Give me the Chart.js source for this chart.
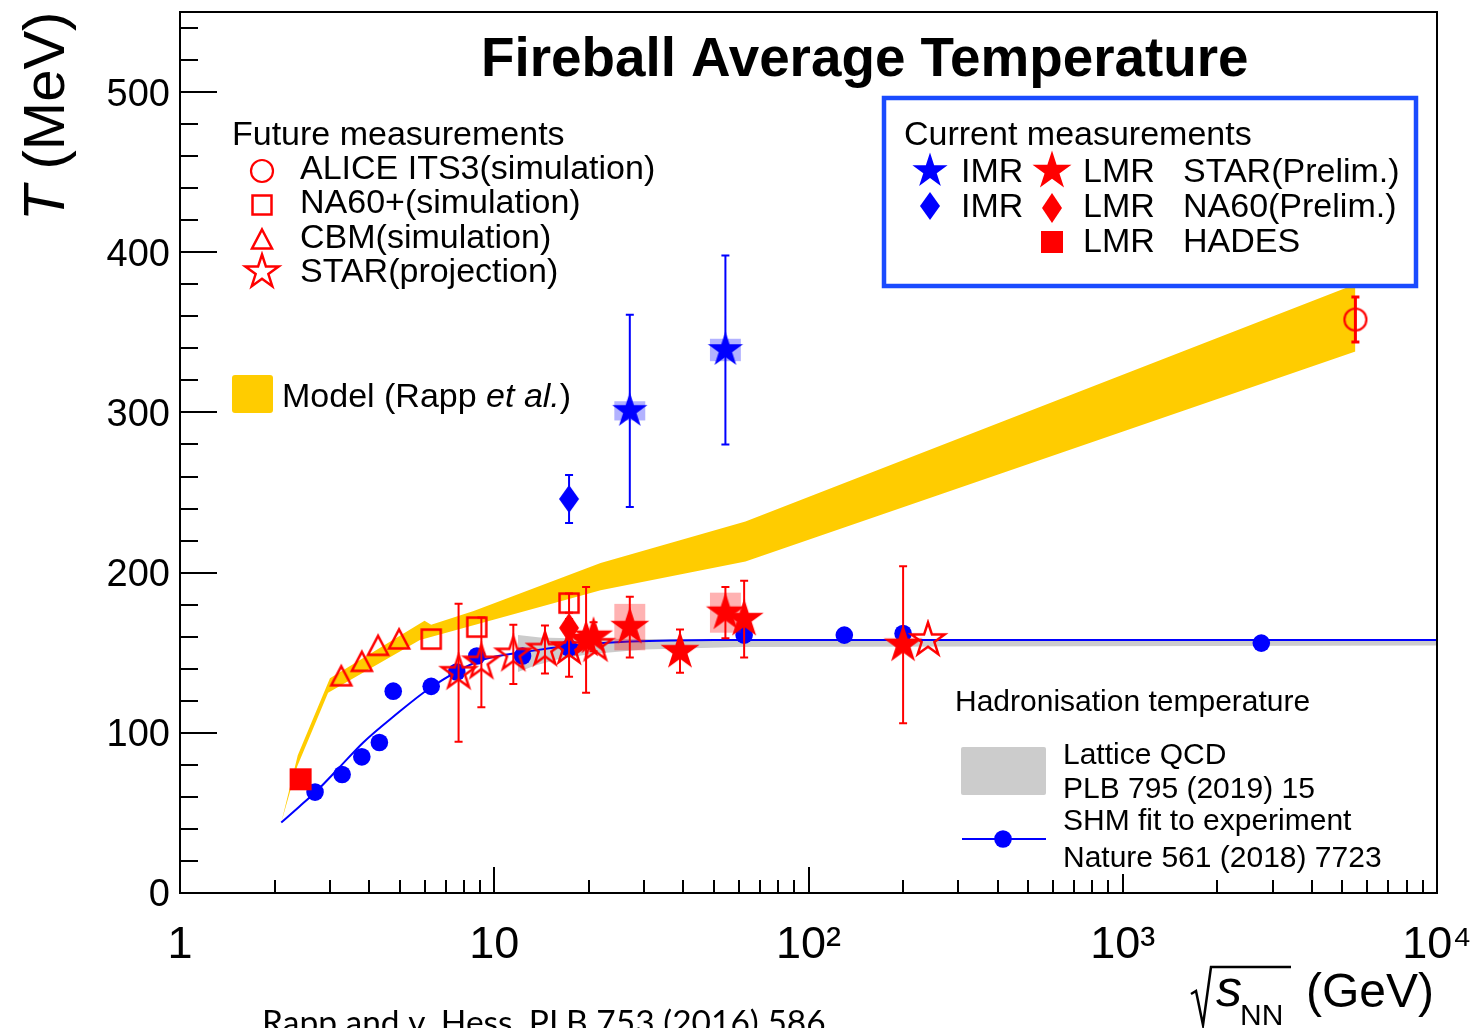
<!DOCTYPE html>
<html>
<head>
<meta charset="utf-8">
<title>Fireball Average Temperature</title>
<script src="https://cdn.jsdelivr.net/npm/chart.js@4.4.1/dist/chart.umd.min.js"></script>
<style>
  html, body { margin: 0; padding: 0; background: #fff; }
  #wrap { width: 1477px; height: 1028px; }
</style>
</head>
<body>
<div id="wrap"><canvas id="fireball" width="1477" height="1028"></canvas></div>
<script>
// sqrt(s_NN) in GeV on x, temperature in MeV on y

// Rapp et al. model band (upper / lower edge)
const modelUpperE = [2.1, 2.37, 3.0, 6.0, 6.3, 8.6, 21.8, 63, 5500];
const modelUpperT = [44, 86, 134, 170, 167.5, 176, 206, 232, 380];
const modelLowerE = [2.1, 2.36, 2.96, 5.8, 21.8, 63, 5500];
const modelLowerT = [44, 79, 125, 158, 189, 207, 338];

// lattice QCD pseudo-critical band
const latticeUpperE = [11.9, 14, 20, 60, 10000];
const latticeUpperT = [161, 159.5, 158.8, 158.3, 158];
const latticeLowerE = [11.9, 13.5, 16, 20, 30, 60, 10000];
const latticeLowerT = [138, 142, 146, 149, 152, 153.5, 154.5];

// SHM chemical freeze-out: curve and fitted points
const shmCurveE = [2.1, 2.4, 2.73, 3.2, 3.83, 4.77, 6.25, 9.0, 13, 18.8, 27, 50, 200, 10000];
const shmCurveT = [44, 54, 64, 78, 94, 110, 128, 145, 151, 155, 157, 158, 158, 158];
const shmPointE = [2.69, 3.28, 3.79, 4.31, 4.77, 6.3, 7.6, 8.8, 12.3, 17.3, 62.4, 130, 200, 2760];
const shmPointT = [63, 74, 85, 94, 126, 129, 138, 148, 148, 153, 161, 161, 162, 156];

// current measurements
const starLmrE = [19.6, 20.7, 27, 39, 54.4, 62.4, 200];
const starLmrT = [158, 160, 166, 151, 175, 171, 155];
const starLmrStat = [33, 9, 19, 13.5, 16, 24, 49];
const starLmrSys = [0, 0, 14.5, 0, 12.5, 0, 0];
const starImrE = [27, 54.4];
const starImrT = [301, 339];
const starImrStat = [60, 59];
const starImrSys = [6, 7];
const na60LmrE = [17.3];
const na60LmrT = [165.5];
const na60ImrE = [17.3];
const na60ImrT = [246];
const na60ImrStat = [15];
const hadesE = [2.42];
const hadesT = [71];

// future measurements
const aliceE = [5500];
const aliceT = [358];
const aliceErr = [14];
const na60PlusE = [6.3, 8.8, 17.3];
const na60PlusT = [158.5, 166, 181];
const na60PlusErr = [0, 0, 6];
const cbmE = [3.26, 3.79, 4.27, 4.98];
const cbmT = [135, 144, 154, 158];
const starProjE = [7.7, 9.1, 11.5, 14.5, 17.3, 21, 240];
const starProjT = [137.5, 144, 149, 152, 153, 155, 158];
const starProjErr = [43, 28, 18.5, 15, 18, 0, 0];

// axes
const xDecades = [1, 10, 100, 1000, 10000];
const xTickLabels = ['1', '10', '10²', '10³', '10⁴'];
const yTickLabels = ['0', '100', '200', '300', '400', '500'];

const RED = '#ff0000', BLUE = '#0000ff', GOLD = '#ffcc00', GREY = '#cccccc';
const BOXBLUE = '#1a4bff';
const SANS = '"Liberation Sans", Arial, Helvetica, sans-serif';
const SYS_HALF = 1.12; // half width of systematic boxes, as a factor in sqrt(s)

const pts = (xs, ys) => xs.map((x, i) => ({ x, y: ys[i] }));

// marker images
function marker(w, h, paint) {
  const c = document.createElement('canvas');
  c.width = w; c.height = h;
  const g = c.getContext('2d');
  g.translate(w / 2, h / 2);
  paint(g);
  return c;
}
function starPath(g, R) {
  const r = R * 0.382;
  g.beginPath();
  for (let i = 0; i < 10; i++) {
    const a = -Math.PI / 2 + i * Math.PI / 5;
    const d = i % 2 ? r : R;
    g.lineTo(d * Math.cos(a), d * Math.sin(a));
  }
  g.closePath();
}
function diamondPath(g, w, h) {
  g.beginPath();
  g.moveTo(0, -h / 2); g.lineTo(w / 2, 0); g.lineTo(0, h / 2); g.lineTo(-w / 2, 0);
  g.closePath();
}
const redStar = marker(46, 46, g => { starPath(g, 20.5); g.fillStyle = RED; g.fill(); });
const blueStar = marker(40, 40, g => { starPath(g, 18.5); g.fillStyle = BLUE; g.fill(); });
const openStar = marker(42, 42, g => {
  starPath(g, 17.5); g.strokeStyle = RED; g.lineWidth = 2.5; g.stroke();
});
const openSquare = marker(26, 26, g => {
  g.strokeStyle = RED; g.lineWidth = 2.5; g.strokeRect(-9.5, -9.5, 19, 19);
});
const openTriangle = marker(28, 28, g => {
  g.beginPath(); g.moveTo(0, -10.5); g.lineTo(10, 8.5); g.lineTo(-10, 8.5); g.closePath();
  g.strokeStyle = RED; g.lineWidth = 2.5; g.stroke();
});
const openCircle = marker(28, 28, g => {
  g.beginPath(); g.arc(0, 0, 11, 0, Math.PI * 2);
  g.strokeStyle = RED; g.lineWidth = 2.2; g.stroke();
});
const hadesSquare = marker(24, 24, g => { g.fillStyle = RED; g.fillRect(-11, -11, 22, 22); });
const redDiamond = marker(24, 34, g => { diamondPath(g, 20, 30); g.fillStyle = RED; g.fill(); });
const blueDiamond = marker(24, 32, g => { diamondPath(g, 20, 28); g.fillStyle = BLUE; g.fill(); });

function band(label, E, T, color, fill, order) {
  return {
    label, data: pts(E, T), showLine: true, fill,
    backgroundColor: color, borderColor: 'rgba(0,0,0,0)', borderWidth: 0,
    pointRadius: 0, order
  };
}
function markers(label, E, T, style, order, extra) {
  return Object.assign({
    label, data: pts(E, T), showLine: false, pointStyle: style,
    pointRadius: 10, order
  }, extra || {});
}

const datasets = [
  band('Model upper', modelUpperE, modelUpperT, GOLD, '+1', 20),
  band('Model lower', modelLowerE, modelLowerT, GOLD, false, 21),
  band('Lattice upper', latticeUpperE, latticeUpperT, GREY, '+1', 18),
  band('Lattice lower', latticeLowerE, latticeLowerT, GREY, false, 19),
  {
    label: 'SHM curve', data: pts(shmCurveE, shmCurveT), showLine: true,
    borderColor: BLUE, borderWidth: 2, pointRadius: 0,
    cubicInterpolationMode: 'monotone', fill: false, order: 17
  },
  {
    label: 'SHM fit', data: pts(shmPointE, shmPointT), showLine: false,
    pointStyle: 'circle', pointRadius: 8.8, backgroundColor: BLUE,
    borderWidth: 0, order: 16
  },
  markers('ALICE ITS3', aliceE, aliceT, openCircle, 15,
    { err: aliceErr, errColor: RED, errWidth: 3 }),
  markers('CBM', cbmE, cbmT, openTriangle, 14),
  markers('NA60+', na60PlusE, na60PlusT, openSquare, 13,
    { err: na60PlusErr, errColor: RED, errWidth: 2 }),
  markers('STAR projection', starProjE, starProjT, openStar, 12,
    { err: starProjErr, errColor: RED, errWidth: 2 }),
  markers('HADES LMR', hadesE, hadesT, hadesSquare, 11),
  markers('STAR IMR', starImrE, starImrT, blueStar, 10,
    { err: starImrStat, sys: starImrSys, errColor: BLUE, errWidth: 2, sysColor: 'rgba(0,0,255,0.3)' }),
  markers('NA60 IMR', na60ImrE, na60ImrT, blueDiamond, 9,
    { err: na60ImrStat, errColor: BLUE, errWidth: 2 }),
  markers('NA60 LMR', na60LmrE, na60LmrT, redDiamond, 8),
  markers('STAR LMR', starLmrE, starLmrT, redStar, 7,
    { err: starLmrStat, sys: starLmrSys, errColor: RED, errWidth: 2, sysColor: 'rgba(255,0,0,0.3)' })
];

// stat error bars and systematic boxes, drawn just below their own markers
const errorBars = {
  id: 'errorBars',
  beforeDatasetDraw(chart, args) {
    const ds = chart.data.datasets[args.index];
    if (!ds.err && !ds.sys) return;
    const { ctx, scales: { x, y } } = chart;
    ctx.save();
    if (ds.sys) {
      ctx.fillStyle = ds.sysColor;
      ds.data.forEach((p, i) => {
        const s = ds.sys[i];
        if (!s) return;
        const x0 = x.getPixelForValue(p.x / SYS_HALF);
        const x1 = x.getPixelForValue(p.x * SYS_HALF);
        const y0 = y.getPixelForValue(p.y + s);
        const y1 = y.getPixelForValue(p.y - s);
        ctx.fillRect(x0, y0, x1 - x0, y1 - y0);
      });
    }
    if (ds.err) {
      ctx.strokeStyle = ds.errColor;
      ctx.lineWidth = ds.errWidth;
      ctx.beginPath();
      ds.data.forEach((p, i) => {
        const e = ds.err[i];
        if (!e) return;
        const px = x.getPixelForValue(p.x);
        const top = y.getPixelForValue(p.y + e);
        const bot = y.getPixelForValue(p.y - e);
        ctx.moveTo(px, top); ctx.lineTo(px, bot);
        ctx.moveTo(px - 4, top); ctx.lineTo(px + 4, top);
        ctx.moveTo(px - 4, bot); ctx.lineTo(px + 4, bot);
      });
      ctx.stroke();
    }
    ctx.restore();
  }
};

// ROOT-like frame with inward ticks
const frameAxes = {
  id: 'frameAxes',
  afterDatasetsDraw(chart) {
    const { ctx, chartArea: a, scales: { x, y } } = chart;
    ctx.save();
    ctx.strokeStyle = '#000';
    ctx.lineWidth = 2;
    ctx.strokeRect(a.left, a.top, a.right - a.left, a.bottom - a.top);
    ctx.beginPath();
    x.ticks.forEach(t => {
      const px = Math.round(x.getPixelForValue(t.value));
      const len = xDecades.includes(t.value) ? 26 : 13;
      ctx.moveTo(px, a.bottom); ctx.lineTo(px, a.bottom - len);
    });
    y.ticks.forEach(t => {
      const py = Math.round(y.getPixelForValue(t.value));
      const len = t.value % 100 === 0 ? 37 : 18;
      ctx.moveTo(a.left, py); ctx.lineTo(a.left + len, py);
    });
    ctx.stroke();
    ctx.restore();
  }
};

function put(ctx, str, x, y, size, style) {
  ctx.font = (style ? style + ' ' : '') + size + 'px ' + SANS;
  ctx.fillText(str, x, y);
  return ctx.measureText(str).width;
}
function stamp(ctx, img, x, y) {
  ctx.drawImage(img, x - img.width / 2, y - img.height / 2);
}

// title, axis titles and the three legends
const annotations = {
  id: 'annotations',
  afterDraw(chart) {
    const ctx = chart.ctx;
    ctx.save();
    ctx.fillStyle = '#000';
    ctx.textAlign = 'left';
    ctx.textBaseline = 'alphabetic';

    put(ctx, 'Fireball Average Temperature', 481, 76, 54.8, 'bold');

    // y title
    ctx.save();
    ctx.translate(64, 221);
    ctx.rotate(-Math.PI / 2);
    const wT = put(ctx, 'T', 0, 0, 58, 'italic');
    put(ctx, ' (MeV)', wT, 0, 58);
    ctx.restore();

    // x title with radical
    ctx.save();
    ctx.strokeStyle = '#000';
    ctx.lineWidth = 2.5;
    ctx.lineJoin = 'miter';
    ctx.beginPath();
    ctx.moveTo(1191, 994); ctx.lineTo(1196, 991); ctx.lineTo(1203, 1025);
    ctx.lineTo(1211, 967); ctx.lineTo(1291, 967);
    ctx.stroke();
    ctx.restore();
    put(ctx, 's', 1216, 1006, 52, 'italic');
    put(ctx, 'NN', 1240, 1025, 30);
    put(ctx, '(GeV)', 1306, 1007, 48);

    // citation under the axis
    ctx.font = '33.5px Lato, "Open Sans", sans-serif';
    ctx.fillText('Rapp and v. Hess, PLB 753 (2016) 586', 262, 1034);

    // future measurements
    put(ctx, 'Future measurements', 232, 145, 34);
    stamp(ctx, openCircle, 262, 171);
    stamp(ctx, openSquare, 262, 205);
    stamp(ctx, openTriangle, 262, 240);
    stamp(ctx, openStar, 262, 272);
    put(ctx, 'ALICE ITS3(simulation)', 300, 179, 34);
    put(ctx, 'NA60+(simulation)', 300, 213, 34);
    put(ctx, 'CBM(simulation)', 300, 248, 34);
    put(ctx, 'STAR(projection)', 300, 282, 34);

    // model swatch
    ctx.fillStyle = GOLD;
    ctx.beginPath();
    ctx.roundRect(232, 375, 41, 38, 3);
    ctx.fill();
    ctx.fillStyle = '#000';
    let cx = 282;
    cx += put(ctx, 'Model (Rapp ', cx, 407, 34);
    cx += put(ctx, 'et al.', cx, 407, 34, 'italic');
    put(ctx, ')', cx, 407, 34);

    // current measurements box
    ctx.fillStyle = '#fff';
    ctx.fillRect(884, 98, 532, 188);
    ctx.strokeStyle = BOXBLUE;
    ctx.lineWidth = 4.5;
    ctx.strokeRect(884, 98, 532, 188);
    ctx.fillStyle = '#000';
    put(ctx, 'Current measurements', 904, 145, 34);
    stamp(ctx, blueStar, 930, 171);
    stamp(ctx, redStar, 1052, 171);
    stamp(ctx, blueDiamond, 930, 206);
    stamp(ctx, redDiamond, 1052, 208);
    stamp(ctx, hadesSquare, 1052, 242);
    put(ctx, 'IMR', 961, 182, 34);
    put(ctx, 'LMR', 1083, 182, 34);
    put(ctx, 'STAR(Prelim.)', 1183, 182, 34);
    put(ctx, 'IMR', 961, 217, 34);
    put(ctx, 'LMR', 1083, 217, 34);
    put(ctx, 'NA60(Prelim.)', 1183, 217, 34);
    put(ctx, 'LMR', 1083, 252, 34);
    put(ctx, 'HADES', 1183, 252, 34);

    // hadronisation legend on its own white pad
    ctx.fillStyle = '#fff';
    ctx.fillRect(946, 676, 489, 198);
    ctx.fillStyle = '#000';
    put(ctx, 'Hadronisation temperature', 955, 711, 30);
    ctx.fillStyle = GREY;
    ctx.beginPath();
    ctx.roundRect(961, 747, 85, 48, 2);
    ctx.fill();
    ctx.strokeStyle = BLUE;
    ctx.lineWidth = 2;
    ctx.beginPath();
    ctx.moveTo(962, 839); ctx.lineTo(1046, 839);
    ctx.stroke();
    ctx.fillStyle = BLUE;
    ctx.beginPath();
    ctx.arc(1003, 839, 8.8, 0, Math.PI * 2);
    ctx.fill();
    ctx.fillStyle = '#000';
    put(ctx, 'Lattice QCD', 1063, 764, 30);
    put(ctx, 'PLB 795 (2019) 15', 1063, 798, 30);
    put(ctx, 'SHM fit to experiment', 1063, 830, 30);
    put(ctx, 'Nature 561 (2018) 7723', 1063, 867, 30);

    ctx.restore();
  }
};

const xTickValues = [];
xDecades.slice(0, -1).forEach(d => {
  for (let k = 1; k <= 9; k++) xTickValues.push(d * k);
});
xTickValues.push(10000);

new Chart(document.getElementById('fireball'), {
  type: 'scatter',
  data: { datasets },
  options: {
    responsive: false,
    animation: false,
    devicePixelRatio: 1,
    events: [],
    layout: { padding: { top: 12, right: 40, left: 0, bottom: 0 } },
    plugins: { legend: { display: false }, tooltip: { enabled: false } },
    scales: {
      x: {
        type: 'logarithmic', min: 1, max: 10000, position: 'bottom',
        afterBuildTicks: s => { s.ticks = xTickValues.map(v => ({ value: v })); },
        afterFit: s => { s.height = 135; s.paddingLeft = 0; s.paddingRight = 0; },
        grid: { display: false, drawTicks: false },
        border: { display: false },
        ticks: {
          autoSkip: false, maxRotation: 0, padding: 26, color: '#000',
          font: { family: SANS, size: 45 },
          callback: v => {
            const i = xDecades.indexOf(v);
            return i >= 0 ? xTickLabels[i] : '';
          }
        }
      },
      y: {
        type: 'linear', min: 0, max: 550,
        afterBuildTicks: s => {
          const t = [];
          for (let v = 0; v <= 540; v += 20) t.push({ value: v });
          s.ticks = t;
        },
        afterFit: s => { s.width = 180; s.paddingTop = 0; s.paddingBottom = 0; },
        grid: { display: false, drawTicks: false },
        border: { display: false },
        ticks: {
          autoSkip: false, padding: 10, color: '#000', labelOffset: 3,
          font: { family: SANS, size: 38 },
          callback: v => (v % 100 === 0 ? yTickLabels[v / 100] : '')
        }
      }
    }
  },
  plugins: [errorBars, frameAxes, annotations]
});
</script>
</body>
</html>
